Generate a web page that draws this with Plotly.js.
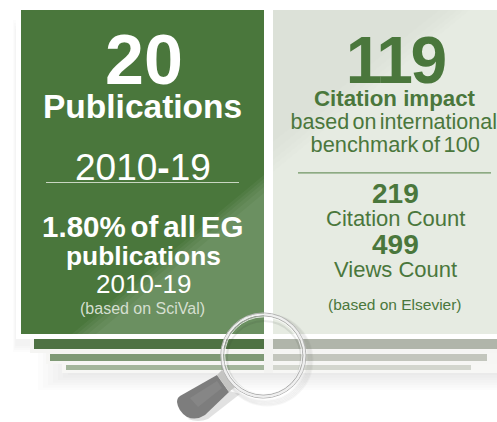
<!DOCTYPE html>
<html><head><meta charset="utf-8">
<script src="https://cdn.plot.ly/plotly-3.0.1.min.js"></script>
<style>html,body{margin:0;padding:0;background:#fff;overflow:hidden}#c{width:497px;height:422px}
.annotation[data-index="3"] text{word-spacing:-3.4px}
.annotation[data-index="9"] text{word-spacing:-2.6px}
.annotation[data-index="10"] text{word-spacing:-2.6px}
.annotation[data-index="7"] text{letter-spacing:-2.5px}
</style>
</head><body><div id="c"></div>
<script>
const leftLabels = ['20','Publications','2010-19','1.80% of all EG','publications','2010-19','(based on SciVal)'];
const rightLabels = ['119','Citation impact','based on international','benchmark of 100','219','Citation Count','499','Views Count','(based on Elsevier)'];
const FONT = 'Liberation Sans, Arial, sans-serif';
const DARK = '#4a773c', WHITE = '#ffffff';

function rect(x0,y0,x1,y1,fill){return {type:'rect',xref:'x',yref:'y',x0,y0,x1,y1,fillcolor:fill,line:{width:0},layer:'above'};}
function poly(d,fill){return {type:'path',xref:'x',yref:'y',path:d,fillcolor:fill,line:{width:0},layer:'above'};}
function circ(cx,cy,r,color,w,fill){return {type:'circle',xref:'x',yref:'y',x0:cx-r,x1:cx+r,y0:cy-r,y1:cy+r,fillcolor:fill||'rgba(0,0,0,0)',line:{color,width:w},layer:'above'};}
function txt(s,x,y,size,color,bold){return {xref:'x',yref:'y',x,y,xanchor:'center',yanchor:'middle',showarrow:false,text:bold?'<b>'+s+'</b>':s,font:{family:FONT,size,color},borderpad:0};}

const shapes = [];
// soft shadows
for(let i=0;i<9;i++){
  shapes.push(rect(38+i*5,340,497,390-i*2.5,'rgba(90,90,85,0.014)'));
}
for(let i=0;i<4;i++){
  shapes.push(rect(13+i*.8,20+i*3,30,352-i*2,'rgba(60,60,55,0.016)'));
}
// white frames
shapes.push(rect(16,5,497,339,WHITE));
shapes.push(rect(30,339,497,353,'#f5f5f3'));
shapes.push(rect(46,353,497,364,'#f6f6f4'));
shapes.push(rect(62,364,497,373,'#f7f7f5'));
shapes.push(rect(264,339,273,373,'#f3f3f1'));
// stack strips
shapes.push(rect(34,339,264,349,'#4e7243'));
shapes.push(rect(50,354,264,361,'#7f9a76'));
shapes.push(rect(66,365,264,370,'#a3b69c'));
shapes.push(rect(273,339,497,349,'#b0b5aa'));
shapes.push(rect(273,354,487,361,'#c3c6bd'));
shapes.push(rect(273,365,471,370,'#d3d6ce'));
// panels
shapes.push(rect(21,10,264,334,'#4a773c'));
shapes.push(rect(273,10,497,334,'#e6ebe2'));
// sheen, left panel
[0,5,10,16,24].forEach(o=>{
  const yr=175+o*0.75;
  shapes.push(poly(`M ${72+o} 334 L 264 ${yr} L 264 334 Z`,'rgba(255,255,255,0.045)'));
});
// sheen, right panel (darker upper-left)
[0,6,12,20,30].forEach(o=>{
  shapes.push(poly(`M 273 10 L ${470-o} 10 L 273 ${172-o} Z`,'rgba(70,90,50,0.013)'));
});
// rules
shapes.push({type:'line',xref:'x',yref:'y',x0:46,x1:239,y0:182.5,y1:182.5,line:{color:'#c9d6c2',width:1.2},layer:'above'});
shapes.push({type:'line',xref:'x',yref:'y',x0:298,x1:491,y0:172.8,y1:172.8,line:{color:'#6f9563',width:1.2},layer:'above'});
// lens shadow
for(let i=0;i<5;i++){ shapes.push(circ(265+i*.5,358+i*.5,43+i*.6,'rgba(70,70,70,0.045)',2)); }
shapes.push(circ(264,358,37,'rgba(40,50,40,0.10)',2));
// handle shadow
shapes.push(poly('M 226 390 L 240 394 L 208 419 Q 198 423 188 419 Z','rgba(70,70,70,0.16)'));
// handle
shapes.push(poly('M 217 375 L 229 392 L 205 415 Q 196 421 187 417 Q 178 411 177 402 Q 177 398 180 396 Z','#7d7d7d'));
shapes.push(poly('M 190 398 L 217 381 L 222 388 L 198 407 Z','rgba(255,255,255,0.07)'));
shapes.push(poly('M 217 375 L 222 370 L 235 387 L 229 392 Z','#c4c4c2'));
// lens ring
shapes.push(circ(263.3,355.5,42.6,'#b4b4b4',1));
shapes.push(circ(263.3,355.5,41.1,'#efefef',2));
shapes.push(circ(263.3,355.5,39.5,'#a6a6a6',0.9));
shapes.push(circ(263.3,355.5,38.6,'rgba(255,255,255,0.75)',1));

const annotations = [
  txt(leftLabels[0],144,60,70,WHITE,true),
  txt(leftLabels[1],142.5,106,33.5,WHITE,true),
  txt(leftLabels[2].replace('-','<b>-</b>'),142.5,167,37,WHITE,false),
  txt(leftLabels[3],143,226,29.5,WHITE,true),
  txt(leftLabels[4],143,256,26.3,WHITE,true),
  txt(leftLabels[5],143,284,26,WHITE,false),
  txt(leftLabels[6],142.5,308,16,'#d5dfd0',false),
  txt(rightLabels[0],395,60,66,DARK,true),
  txt(rightLabels[1],395,98,22.3,DARK,true),
  txt(rightLabels[2],393.5,122,21.5,DARK,false),
  txt(rightLabels[3],395,144,21.8,DARK,false),
  txt(rightLabels[4],395,193,28,DARK,true),
  txt(rightLabels[5],395,218,22,DARK,false),
  txt(rightLabels[6],395,244,28,DARK,true),
  txt(rightLabels[7],395,269,22,DARK,false),
  txt(rightLabels[8],395,304,15.5,DARK,false)
];

Plotly.newPlot('c',[{type:'scatter',x:[],y:[],hoverinfo:'skip',showlegend:false}],{
  width:497,height:422,margin:{l:0,r:0,t:0,b:0,pad:0},
  paper_bgcolor:'#fff',plot_bgcolor:'#fff',showlegend:false,
  xaxis:{range:[0,497],visible:false,fixedrange:true},
  yaxis:{range:[422,0],visible:false,fixedrange:true},
  shapes,annotations
},{staticPlot:true,displayModeBar:false});
</script></body></html>
